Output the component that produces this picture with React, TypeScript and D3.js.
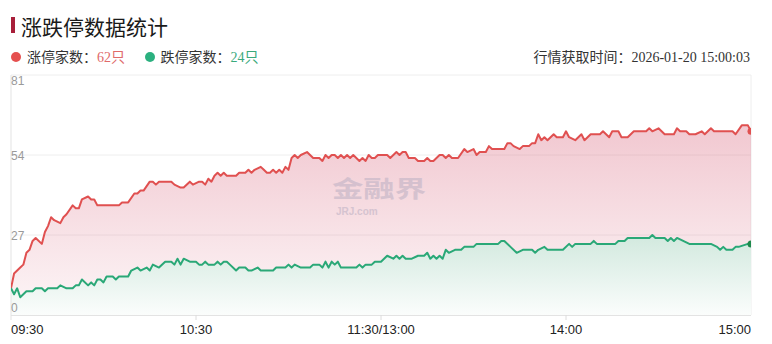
import React from "react";
import * as d3 from "d3";

const titleText = "涨跌停数据统计";
const upLabel = "涨停家数：";
const downLabel = "跌停家数：";
const upCount = "62只";
const downCount = "24只";
const fetchTime = "行情获取时间：2026-01-20 15:00:03";

const yTicks = [0, 27, 54, 81];
const xTickMinutes = [0, 60, 120, 180, 240];
const xTickLabels = ["09:30", "10:30", "11:30/13:00", "14:00", "15:00"];

// minutes since 09:30 (trading minutes) and counts
const upMinutes = [0,1,3,4,5,6,7,8,10,11,12,13,14,16,17,18,20,21,22,23,25,26,27,28,35,36,38,40,41,42,43,45,46,47,48,52,53,55,56,58,59,61,62,63,64,65,66,67,68,69,70,73,74,76,77,78,79,81,82,83,84,85,86,87,88,89,90,91,92,93,94,96,97,98,100,101,102,103,104,105,106,107,108,109,110,111,112,113,114,115,116,117,118,119,122,123,125,126,127,128,129,131,132,134,135,136,137,139,140,141,142,143,145,147,148,150,151,152,154,155,156,160,161,162,163,165,166,168,169,170,171,172,173,174,176,177,179,180,181,183,185,186,188,191,192,194,195,197,198,200,202,204,206,207,208,210,212,215,216,217,219,220,222,224,225,227,228,234,235,237,239,240];
const upValues = [9,14,16,17,21,22,25,26,24,28,30,33,32,31,33,34,37,36,36,39,40,39,39,37,37,38,38,41,41,42,42,45,45,44,45,45,44,43,43,45,44,45,45,44,46,45,47,48,47,48,47,47,48,48,49,48,49,50,49,48,48,49,48,49,48,50,49,53,54,53,54,55,54,53,53,52,54,53,54,54,53,54,53,54,53,54,53,52,53,52,54,53,53,54,54,53,55,54,55,55,53,53,52,52,53,52,52,54,54,53,54,53,53,56,55,56,54,55,55,57,56,56,58,58,57,56,57,57,58,58,61,59,60,59,61,60,60,62,60,59,61,59,61,61,62,60,62,62,60,60,62,62,62,63,62,63,61,61,63,62,62,61,61,62,61,63,62,62,61,64,64,62];

const downMinutes = [0,1,2,3,5,7,8,10,11,12,15,16,18,20,21,22,23,25,26,27,28,29,30,31,33,34,35,38,39,41,42,44,45,46,48,50,52,53,54,55,56,58,60,61,62,63,64,66,67,68,69,70,71,73,74,76,77,78,80,81,85,86,89,90,91,92,94,97,98,100,101,102,103,104,105,106,107,112,113,114,115,117,118,120,121,122,124,125,126,127,128,130,132,134,135,136,137,138,139,140,141,142,144,146,147,150,151,158,159,160,162,164,166,169,170,171,173,174,179,181,182,183,188,189,190,196,197,199,200,207,208,209,212,213,214,215,216,218,220,227,229,230,231,232,234,235,236,239,240];
const downValues = [9,7,9,6,8,8,9,9,8,9,9,10,9,9,10,10,12,10,11,10,12,12,11,13,13,12,13,13,15,16,15,16,15,17,16,18,18,17,19,17,19,18,18,17,17,18,17,17,18,17,18,18,17,15,16,16,15,15,16,15,15,16,16,17,16,17,16,16,17,17,16,18,16,18,17,18,16,16,17,16,17,17,18,18,19,20,19,20,19,20,19,19,20,20,21,19,20,19,20,19,22,21,22,22,23,23,24,24,25,25,23,21,22,22,21,22,23,22,22,24,23,24,24,25,24,24,25,25,26,26,27,26,26,25,26,25,26,25,24,24,23,22,23,22,22,23,23,24,24];

const W = 772;
const H = 344;
const left = 11;
const right = 751;
const top = 75;
const bottom = 315;

const RED = "#e05050";
const GREEN = "#2aa877";
const CJK = "'Liberation Serif', 'Noto Sans CJK SC', serif";

export default function App() {
  const x = d3.scaleLinear().domain([0, 240]).range([left, right]);
  const y = d3.scaleLinear().domain([0, 81]).range([bottom, top]);

  const up = upMinutes.map((m, i) => [m, upValues[i]] as [number, number]);
  const down = downMinutes.map((m, i) => [m, downValues[i]] as [number, number]);

  const line = d3.line<[number, number]>().x((d) => x(d[0])).y((d) => y(d[1]));
  const area = d3
    .area<[number, number]>()
    .x((d) => x(d[0]))
    .y0(y(0))
    .y1((d) => y(d[1]));

  const lastUp = up[up.length - 1];
  const lastDown = down[down.length - 1];

  return (
    <div style={{ position: "absolute", left: 0, top: 0, width: W, height: H, background: "#fff" }}>
      <svg width={W} height={H} style={{ display: "block" }}>
        <defs>
          <linearGradient id="redGrad" gradientUnits="userSpaceOnUse" x1="0" y1="120" x2="0" y2={bottom}>
            <stop offset="0" stopColor="#da6a81" stopOpacity={0.38} />
            <stop offset="1" stopColor="#da6a81" stopOpacity={0.06} />
          </linearGradient>
          <linearGradient id="greenGrad" gradientUnits="userSpaceOnUse" x1="0" y1="232" x2="0" y2={bottom}>
            <stop offset="0" stopColor="#289664" stopOpacity={0.22} />
            <stop offset="1" stopColor="#289664" stopOpacity={0.02} />
          </linearGradient>
          <clipPath id="plotClip">
            <rect x={left} y={top - 5} width={right - left} height={bottom - top + 5} />
          </clipPath>
        </defs>

        {/* Title */}
        <rect x={11} y={17} width={4} height={16} fill="#a81f3a" />
        <text x={21} y={25.5} dominantBaseline="central" fontSize={21} fill="#1a1a1a" fontFamily="'Noto Sans CJK SC', sans-serif">
          {titleText}
        </text>

        {/* Legend */}
        <circle cx={16} cy={57} r={5} fill="#e5504f" />
        <text x={27} y={57} dominantBaseline="central" fontSize={14} fill="#333" fontFamily={CJK}>
          {upLabel}
          <tspan fill="#e06a6a">{upCount}</tspan>
        </text>
        <circle cx={150} cy={57} r={5} fill="#2bb07f" />
        <text x={160.5} y={57} dominantBaseline="central" fontSize={14} fill="#333" fontFamily={CJK}>
          {downLabel}
          <tspan fill="#3aaa7c">{downCount}</tspan>
        </text>
        <text x={750} y={57.5} textAnchor="end" dominantBaseline="central" fontSize={14} fill="#333" fontFamily={CJK}>
          {fetchTime}
        </text>

        {/* Grid */}
        {yTicks.slice(1).map((t) => (
          <line key={t} x1={left} x2={right} y1={y(t)} y2={y(t)} stroke="#eeeeee" strokeWidth={1} />
        ))}
        <line x1={right} x2={right} y1={top} y2={bottom} stroke="#eeeeee" strokeWidth={1} />

        {/* Areas */}
        <g clipPath="url(#plotClip)">
          <path d={area(up) || ""} fill="url(#redGrad)" />
          <path d={area(down) || ""} fill="#ffffff" />
          <path d={area(down) || ""} fill="url(#greenGrad)" />
        </g>

        {/* Watermark */}
        <g opacity={0.6}>
          <text
            x={332}
            y={187}
            textLength={94}
            lengthAdjust="spacingAndGlyphs"
            dominantBaseline="central"
            fontSize={23}
            fontWeight="bold"
            fill="#c0b3c5"
            fontFamily="'Noto Sans CJK SC', sans-serif"
          >
            金融界
          </text>
          <text x={336} y={211} dominantBaseline="central" fontSize={10} fontWeight="bold" fill="#c0b3c5" fontFamily="'Liberation Sans', sans-serif">
            JRJ.com
          </text>
        </g>

        {/* Axes */}
        <line x1={left} x2={left} y1={top} y2={bottom + 5} stroke="#e3e3e3" strokeWidth={1} />
        <line x1={left} x2={right} y1={bottom + 0.5} y2={bottom + 0.5} stroke="#e3e3e3" strokeWidth={1} />
        {xTickMinutes.slice(1, 4).map((m) => (
          <line key={m} x1={x(m)} x2={x(m)} y1={bottom} y2={bottom + 5} stroke="#dcdcdc" strokeWidth={1} />
        ))}

        {/* Lines */}
        <g clipPath="url(#plotClip)">
          <path d={line(up) || ""} fill="none" stroke={RED} strokeWidth={2} strokeLinejoin="round" />
          <path d={line(down) || ""} fill="none" stroke={GREEN} strokeWidth={2} strokeLinejoin="round" />
          <circle cx={x(lastUp[0])} cy={y(lastUp[1])} r={3.5} fill={RED} />
          <circle cx={x(lastDown[0])} cy={y(lastDown[1])} r={3.5} fill="#1f8a4c" />
        </g>

        {/* Y labels */}
        {yTicks.map((t) => {
          const yy = t === 81 ? y(t) + 6 : t === 0 ? y(t) - 7 : y(t) + 0.5;
          return (
            <text key={t} x={left} y={yy} dominantBaseline="central" fontSize={12} fill="#9a9a9a" fontFamily="'Liberation Sans', sans-serif">
              {t}
            </text>
          );
        })}

        {/* X labels */}
        {xTickMinutes.map((m, i) => (
          <text
            key={m}
            x={i === 0 ? left : i === xTickMinutes.length - 1 ? right : x(m)}
            y={329}
            textAnchor={i === 0 ? "start" : i === xTickMinutes.length - 1 ? "end" : "middle"}
            dominantBaseline="central"
            fontSize={13}
            fill="#222"
            fontFamily="'Liberation Sans', sans-serif"
          >
            {xTickLabels[i]}
          </text>
        ))}
      </svg>
    </div>
  );
}
